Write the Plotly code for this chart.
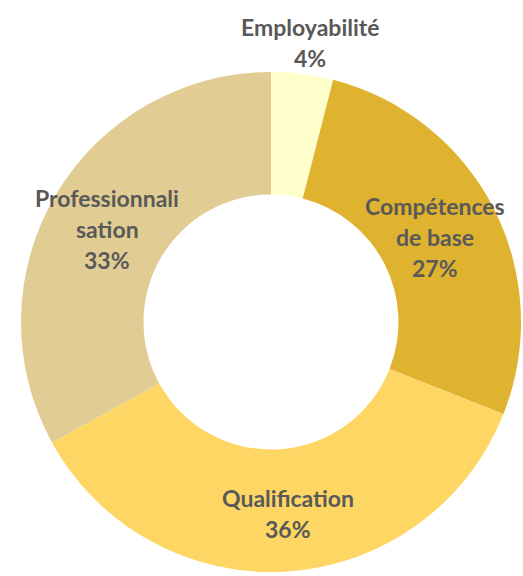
import plotly.graph_objects as go

W, H = 523, 576

categories = ["Employabilité", "Compétences de base", "Qualification", "Professionnalisation"]
values = [4, 27, 36, 33]
colors = ["#FFFFCC", "#DFB22F", "#FDD663", "#E1CD94"]

# label lines as shown in the chart (the last line is the percent)
label_lines = [
    ["Employabilité"],
    ["Compétences", "de base"],
    ["Qualification"],
    ["Professionnali", "sation"],
]
# pixel position of the first line centre of each label block
label_pos = [(310, 27), (435, 206), (288, 498), (107, 198)]
LINE = 31

cx, cy, r = 271, 322, 250

fig = go.Figure()
fig.add_trace(go.Pie(
    labels=categories, values=values, hole=0.51, sort=False, direction="clockwise",
    marker=dict(colors=colors, line=dict(width=0)),
    textinfo="none", hoverinfo="label+percent", showlegend=False,
    domain=dict(x=[(cx - r) / W, (cx + r) / W], y=[(H - cy - r) / H, (H - cy + r) / H]),
))

for lines, v, (x, y) in zip(label_lines, values, label_pos):
    for i, t in enumerate(lines + [f"{v}%"]):
        fig.add_annotation(
            x=x / W, y=1 - (y + i * LINE) / H, xref="paper", yref="paper",
            text=f"<b>{t}</b>", showarrow=False, xanchor="center", yanchor="middle",
            font=dict(family="Lato", size=23, color="#595959"),
        )

fig.update_layout(width=W, height=H, margin=dict(t=0, b=0, l=0, r=0),
                  paper_bgcolor="white", plot_bgcolor="white")
fig.write_html("out.html", config={"displayModeBar": False},
               post_script="document.body.style.margin='0';document.body.style.overflow='hidden';")
